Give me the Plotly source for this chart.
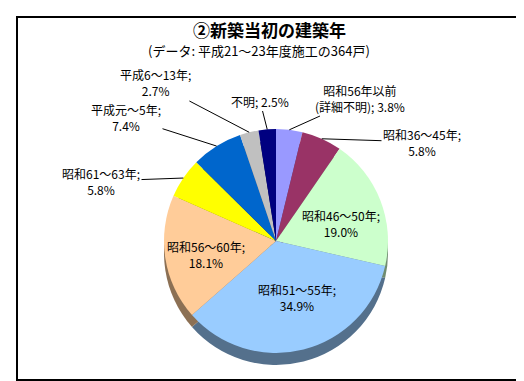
import plotly.graph_objects as go
import math

# ---- data ----
categories = ["昭和56年以前<br>(詳細不明)", "昭和36～45年", "昭和46～50年", "昭和51～55年",
              "昭和56～60年", "昭和61～63年", "平成元～5年", "平成6～13年", "不明"]
shares = [3.8, 5.8, 19.0, 34.9, 18.1, 5.8, 7.4, 2.7, 2.5]
colors = ["#9999FF", "#993366", "#CCFFCC", "#99CCFF", "#FFCC99",
          "#FFFF00", "#0066CC", "#C0C0C0", "#000080"]
label_break = [False, True, True, True, True, True, True, True, False]

title = "②新築当初の建築年"
subtitle = "(データ: 平成21～23年度施工の364戸)"

# ---- layout constants (pixels) ----
W, H = 524, 381
cx, cy, r = 268, 233, 112
depth = 12
FONT = "Noto Sans CJK JP"

# label text centres (px): outside labels get a leader line, inside ones do not
outside_pos = {0: (352, 90), 1: (414, 134), 5: (93, 173), 6: (118, 109), 7: (147, 75), 8: (252, 93)}
inside_pos = {2: (333, 215), 3: (289, 289), 4: (198, 246)}


def darker(hexcol, f=0.5):
    h = hexcol.lstrip("#")
    rgb = [int(h[i:i + 2], 16) for i in (0, 2, 4)]
    return "rgb(%d,%d,%d)" % tuple(int(c * f) for c in rgb)


def domain(cyy):
    return dict(x=[(cx - r) / W, (cx + r) / W], y=[(H - cyy - r) / H, (H - cyy + r) / H])


def fmt(i):
    sep = "<br>" if label_break[i] else " "
    return f"{categories[i]};{sep}{shares[i]:.1f}%"


fig = go.Figure()

# side (depth) of the 3-D pie
fig.add_trace(go.Pie(
    values=shares, labels=categories, sort=False, direction="clockwise", rotation=0,
    marker=dict(colors=[darker(c, 0.55) for c in colors], line=dict(width=0)),
    textinfo="none", hoverinfo="skip", showlegend=False,
    domain=domain(cy + depth),
))

# top face
fig.add_trace(go.Pie(
    values=shares, labels=categories, sort=False, direction="clockwise", rotation=0,
    marker=dict(colors=colors, line=dict(width=0)),
    textinfo="none", hoverinfo="label+value", showlegend=False,
    domain=domain(cy),
))

annotations = []
total = sum(shares)
cum = 0.0
for i, v in enumerate(shares):
    mid = (cum + v / 2) / total * 2 * math.pi
    cum += v
    if i in outside_pos:
        tx = cx + r * math.sin(mid)
        ty = cy - r * math.cos(mid)
        lx, ly = outside_pos[i]
        annotations.append(dict(
            x=tx / W, y=(H - ty) / H, xref="paper", yref="paper",
            ax=lx - tx, ay=ly - ty, axref="pixel", ayref="pixel",
            text=fmt(i), showarrow=True, arrowhead=0, arrowwidth=1, arrowcolor="black",
            standoff=0, align="center",
            font=dict(family=FONT, size=12, color="black"),
        ))
    elif i in inside_pos:
        lx, ly = inside_pos[i]
        annotations.append(dict(
            x=lx / W, y=(H - ly) / H, xref="paper", yref="paper", showarrow=False,
            text=fmt(i), align="center", xanchor="center", yanchor="middle",
            font=dict(family=FONT, size=12, color="black"),
        ))

annotations.append(dict(x=261 / W, y=(H - 21) / H, xref="paper", yref="paper", text=f"<b>{title}</b>",
                        showarrow=False, yanchor="middle", font=dict(family=FONT, size=17, color="black")))
annotations.append(dict(x=251 / W, y=(H - 42) / H, xref="paper", yref="paper", text=subtitle,
                        showarrow=False, yanchor="middle", font=dict(family=FONT, size=13, color="black")))

fig.update_layout(
    width=W, height=H, margin=dict(l=0, r=0, t=0, b=0),
    paper_bgcolor="white", plot_bgcolor="white",
    annotations=annotations,
    shapes=[dict(type="rect", xref="paper", yref="paper", x0=9 / W, x1=513 / W,
                 y0=(H - 372) / H, y1=(H - 9) / H, line=dict(color="black", width=2))],
)

fig.write_html("out.html")
